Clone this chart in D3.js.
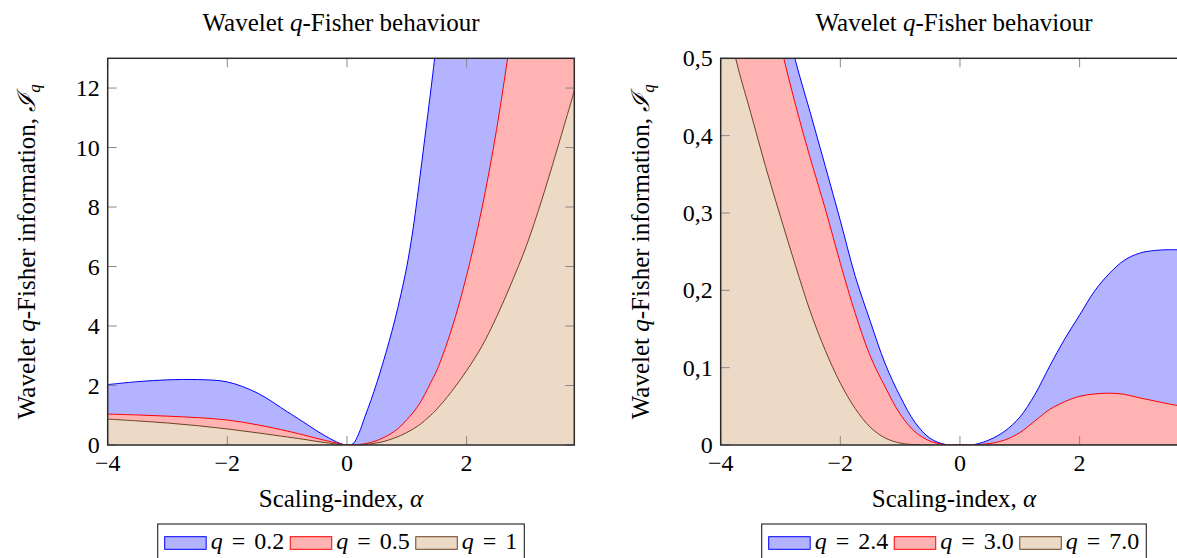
<!DOCTYPE html>
<html><head><meta charset="utf-8">
<script src="https://cdn.jsdelivr.net/npm/d3@7"></script>
<style>
body{margin:0;background:#fff}
svg{display:block}
</style>
</head><body>
<svg id="c" width="1177" height="558" font-family="'Liberation Serif', 'DejaVu Serif', serif"></svg>
<script>
// ---------- data ----------
const alphaLeft = [-4,-3.5,-3,-2.5,-2,-1.5,-1,-0.75,-0.5,-0.25,-0.1,0,0.1,0.2,0.3,0.4,0.5,0.6,0.7,0.8,0.9,1,1.1,1.2,1.3,1.4,1.5,1.75,2,2.25,2.5,2.75,3,3.25,3.5,3.8];
const q02 = [2.03,2.13,2.19,2.2,2.12,1.75,1.12,0.8,0.47,0.18,0.04,0,0.04,0.4,0.95,1.5,2.1,2.75,3.45,4.2,5.05,6.0,7.2,8.7,10.3,11.9,13.6,18,22.5,28,34,40,47,55,63,74];
const q05 = [1.04,1.01,0.97,0.92,0.84,0.68,0.47,0.35,0.22,0.1,0.03,0,0.005,0.015,0.04,0.09,0.15,0.24,0.34,0.47,0.64,0.85,1.08,1.35,1.7,2.1,2.5,3.9,5.7,7.9,10.6,13.9,17.5,21.5,26,32];
const q1  = [0.87,0.81,0.74,0.65,0.54,0.41,0.27,0.2,0.12,0.05,0.015,0,0.002,0.006,0.02,0.04,0.07,0.11,0.17,0.24,0.32,0.42,0.53,0.66,0.82,1.0,1.2,1.8,2.5,3.3,4.3,5.45,6.7,8.2,9.85,11.9];

const alphaRight = [-4,-3.75,-3.5,-3.25,-3,-2.75,-2.5,-2.25,-2,-1.75,-1.5,-1.25,-1,-0.75,-0.5,-0.25,0,0.25,0.5,0.75,1,1.25,1.5,1.75,2,2.25,2.5,2.75,3,3.25,3.5,3.8];
const q24 = [0.92,0.83,0.75,0.66,0.58,0.497,0.429,0.36,0.29,0.218,0.16,0.105,0.063,0.029,0.0087,0.0008,0,0.0008,0.007,0.018,0.036,0.065,0.102,0.137,0.168,0.199,0.222,0.239,0.248,0.2515,0.2525,0.252];
const q30 = [0.85,0.76,0.68,0.595,0.517,0.44,0.37,0.305,0.235,0.17,0.115,0.075,0.04,0.017,0.005,0.0005,0,0.0003,0.002,0.0065,0.016,0.031,0.046,0.056,0.063,0.066,0.067,0.0655,0.061,0.057,0.053,0.049];
const q70 = [0.6,0.5,0.43,0.36,0.295,0.232,0.172,0.122,0.08,0.047,0.023,0.009,0.0025,0.0004,0,0,0,0,0,0,0,0,0,0,0,0,0,0,0,0,0,0];

const xTicks = [-4,-2,0,2];
const xTickLabels = ["\u22124","\u22122","0","2"];
const yTicksLeft = [0,2,4,6,8,10,12];
const yTickLabelsLeft = ["0","2","4","6","8","10","12"];
const yTicksRight = [0,0.1,0.2,0.3,0.4,0.5];
const yTickLabelsRight = ["0","0,1","0,2","0,3","0,4","0,5"];
const legendLeft = ["0.2","0.5","1"];
const legendRight = ["2.4","3.0","7.0"];

const fills = ["#b3b3ff","#ffb3b3","#ecd9c6"];
const strokes = ["#0000ff","#ff0000","#6b4423"];

const svg = d3.select("#c");
const FS = 24;

function panel(cfg){
  const g = svg.append("g");
  const x = d3.scaleLinear().domain([-4,3.8]).range([cfg.x0,cfg.x1]);
  const y = d3.scaleLinear().domain([0,cfg.ymax]).range([445,58.3]);
  const id = "clip"+cfg.key;
  svg.append("clipPath").attr("id",id).append("rect")
    .attr("x",cfg.x0).attr("y",58.3).attr("width",cfg.x1-cfg.x0).attr("height",445-58.3);
  const plots = g.append("g").attr("clip-path",`url(#${id})`);
  const crv = d3.curveCatmullRom.alpha(0.5);
  cfg.series.forEach((vals,i)=>{
    const pts = cfg.alpha.map((a,j)=>[a,vals[j]]);
    const area = d3.area().x(d=>x(d[0])).y0(y(0)).y1(d=>y(d[1])).curve(crv);
    const line = d3.line().x(d=>x(d[0])).y(d=>y(d[1])).curve(crv);
    plots.append("path").attr("d",area(pts)).attr("fill",fills[i]);
    plots.append("path").attr("d",line(pts)).attr("fill","none").attr("stroke",strokes[i]).attr("stroke-width",1);
  });
  // ticks
  const tk = 9;
  const tg = g.append("g").attr("stroke","#8a8a8a").attr("stroke-width",1);
  xTicks.forEach(t=>{
    tg.append("line").attr("x1",x(t)).attr("x2",x(t)).attr("y1",445).attr("y2",445-tk);
    tg.append("line").attr("x1",x(t)).attr("x2",x(t)).attr("y1",58.3).attr("y2",58.3+tk);
  });
  cfg.yTicks.forEach(t=>{
    tg.append("line").attr("x1",cfg.x0).attr("x2",cfg.x0+tk).attr("y1",y(t)).attr("y2",y(t));
    tg.append("line").attr("x1",cfg.x1).attr("x2",cfg.x1-tk).attr("y1",y(t)).attr("y2",y(t));
  });
  // frame
  g.append("rect").attr("x",cfg.x0).attr("y",58.3).attr("width",cfg.x1-cfg.x0).attr("height",445-58.3)
    .attr("fill","none").attr("stroke","#2b2b2b").attr("stroke-width",1.5);
  // tick labels
  xTicks.forEach((t,i)=>{
    g.append("text").attr("x",x(t)).attr("y",471).attr("text-anchor","middle").attr("font-size",FS).text(xTickLabels[i]);
  });
  cfg.yTicks.forEach((t,i)=>{
    g.append("text").attr("x",cfg.x0-8).attr("y",y(t)).attr("dy","0.34em").attr("text-anchor","end").attr("font-size",FS).text(cfg.yLabels[i]);
  });
  const cx = (cfg.x0+cfg.x1)/2;
  // title
  const tt = g.append("text").attr("x",cx).attr("y",31).attr("text-anchor","middle").attr("font-size",25);
  tt.append("tspan").text("Wavelet ");
  tt.append("tspan").attr("font-style","italic").text("q");
  tt.append("tspan").text("-Fisher behaviour");
  // x label
  const xl = g.append("text").attr("x",cx).attr("y",507).attr("text-anchor","middle").attr("font-size",25);
  xl.append("tspan").text("Scaling-index, ");
  xl.append("tspan").attr("font-style","italic").text("\u03b1");
  // y label
  const yl = g.append("text").attr("transform",`translate(${cfg.ylx},251.7) rotate(-90)`).attr("text-anchor","middle").attr("font-size",25);
  yl.append("tspan").text("Wavelet ");
  yl.append("tspan").attr("font-style","italic").text("q");
  yl.append("tspan").text("-Fisher information, ");
  yl.append("tspan").attr("font-style","italic").text("\u2110");
  yl.append("tspan").attr("font-style","italic").attr("font-size",17).attr("dy",5).text("q");
  // legend
  const lg = g.append("g");
  const items = lg.append("g");
  let px = 0;
  const sp = 9;
  cfg.legend.forEach((v,i)=>{
    items.append("rect").attr("x",px).attr("y",536.7).attr("width",41.5).attr("height",12.6)
      .attr("fill",fills[i]).attr("stroke",strokes[i]).attr("stroke-width",1);
    const t = items.append("text").attr("x",px+46).attr("y",549).attr("font-size",FS);
    t.append("tspan").attr("font-style","italic").text("q");
    t.append("tspan").attr("dx",sp).text("=");
    t.append("tspan").attr("dx",sp).text(v);
    px += 46 + t.node().getComputedTextLength() + 2*sp + 6;
  });
  const w = px - 6;
  const boxW = w + 14;
  const bx = cx - boxW/2;
  items.attr("transform",`translate(${bx+7},0)`);
  lg.insert("rect",":first-child").attr("x",bx).attr("y",524).attr("width",boxW).attr("height",50)
    .attr("fill","#fff").attr("stroke","#333").attr("stroke-width",1.2);
}

panel({key:"L",x0:107.7,x1:574.3,ymax:13,alpha:alphaLeft,series:[q02,q05,q1],
  yTicks:yTicksLeft,yLabels:yTickLabelsLeft,legend:legendLeft,ylx:35});
panel({key:"R",x0:720.7,x1:1187.3,ymax:0.5,alpha:alphaRight,series:[q24,q30,q70],
  yTicks:yTicksRight,yLabels:yTickLabelsRight,legend:legendRight,ylx:649});
</script>
</body></html>
